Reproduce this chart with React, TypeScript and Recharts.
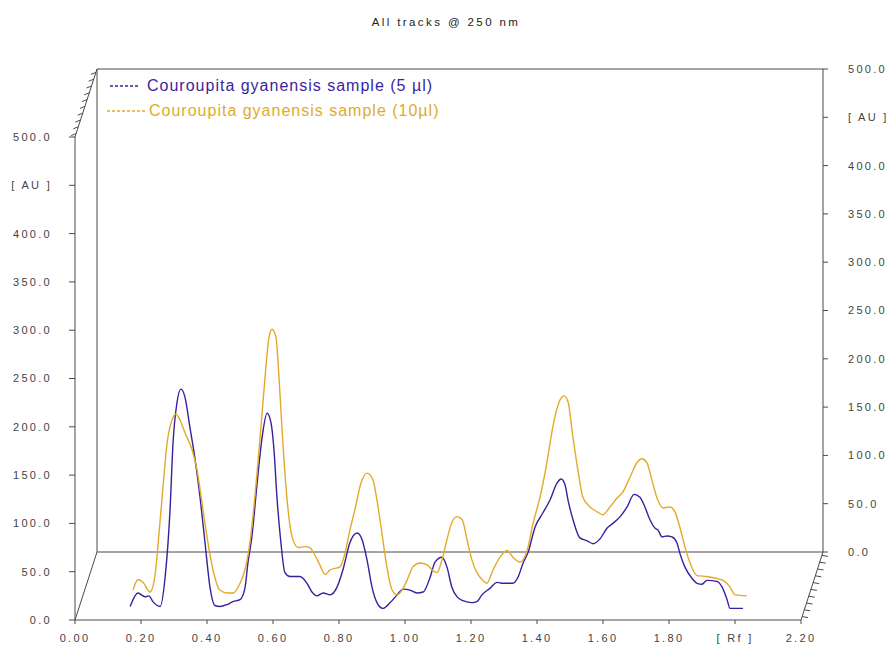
import React from "react";
import { LineChart, Line, XAxis, YAxis, Legend } from "recharts";

const TITLE = "All tracks @ 250 nm";
const SERIES_NAMES = [
  "Couroupita gyanensis sample (5 µl)",
  "Couroupita gyanensis sample (10µl)",
];
const COLORS = ["#3b1f9c", "#e2aa2a"];

const X_TICKS = [0, 0.2, 0.4, 0.6, 0.8, 1.0, 1.2, 1.4, 1.6, 1.8, 2.0, 2.2];
const Y_TICKS = [0, 50, 100, 150, 200, 250, 300, 350, 400, 450, 500];
const X_UNIT = { at: 2.0, label: "[ Rf ]" };
const Y_UNIT = { at: 450, label: "[ AU ]" };

// track 1 (5 µl)
const blueRf = [
  0.167, 0.191, 0.212, 0.224, 0.236, 0.258, 0.273, 0.288, 0.297, 0.309,
  0.321, 0.333, 0.348, 0.364, 0.379, 0.394, 0.409, 0.424, 0.439, 0.461,
  0.479, 0.5, 0.515, 0.524, 0.536, 0.552, 0.567, 0.582, 0.594, 0.603,
  0.612, 0.624, 0.636, 0.652, 0.682, 0.703, 0.718, 0.733, 0.752, 0.773,
  0.794, 0.812, 0.833, 0.855, 0.87, 0.885, 0.9, 0.915, 0.933, 0.955,
  0.976, 0.994, 1.015, 1.036, 1.055, 1.076, 1.091, 1.112, 1.127, 1.142,
  1.158, 1.176, 1.203, 1.218, 1.233, 1.258, 1.279, 1.297, 1.327, 1.342,
  1.358, 1.373, 1.394, 1.418, 1.439, 1.461, 1.473, 1.485, 1.494, 1.509,
  1.53, 1.552, 1.57, 1.591, 1.612, 1.63, 1.652, 1.673, 1.694, 1.712,
  1.727, 1.742, 1.758, 1.767, 1.779, 1.794, 1.809, 1.824, 1.833, 1.848,
  1.87, 1.885, 1.9, 1.915, 1.945, 1.961, 1.976, 1.985, 2.024,
];
const blueAu = [
  14, 28, 24, 25, 19, 14, 44, 114, 183, 225,
  239, 231, 200, 166, 127, 80, 34, 15, 14, 16,
  19, 21, 33, 59, 86, 142, 189, 214, 204, 176,
  127, 80, 49, 45, 45, 38, 29, 25, 28, 26,
  34, 52, 80, 90, 83, 62, 34, 18, 12, 18,
  26, 32, 31, 28, 29, 44, 60, 65, 55, 34,
  24, 20, 18, 19, 26, 33, 39, 38, 38, 44,
  59, 70, 96, 111, 124, 142, 146, 140, 124, 104,
  85, 82, 79, 84, 95, 100, 107, 117, 130, 127,
  117, 104, 95, 93, 86, 87, 86, 80, 69, 55,
  43, 38, 37, 41, 40, 34, 21, 12, 12,
];

// track 2 (10 µl)
const orangeRf = [
  0.176, 0.191, 0.206, 0.227, 0.242, 0.252, 0.264, 0.279, 0.294, 0.306,
  0.318, 0.333, 0.355, 0.37, 0.385, 0.4, 0.418, 0.439, 0.461, 0.479,
  0.5, 0.515, 0.53, 0.545, 0.561, 0.576, 0.588, 0.597, 0.609, 0.618,
  0.63, 0.642, 0.658, 0.676, 0.697, 0.712, 0.727, 0.742, 0.758, 0.773,
  0.803, 0.818, 0.833, 0.848, 0.867, 0.885, 0.903, 0.915, 0.93, 0.945,
  0.961, 0.976, 0.991, 1.006, 1.024, 1.045, 1.067, 1.082, 1.097, 1.112,
  1.127, 1.142, 1.158, 1.173, 1.188, 1.203, 1.218, 1.236, 1.248, 1.267,
  1.288, 1.309, 1.327, 1.348, 1.37, 1.388, 1.409, 1.43, 1.448, 1.47,
  1.482, 1.494, 1.509, 1.524, 1.539, 1.561, 1.582, 1.6, 1.621, 1.642,
  1.661, 1.682, 1.703, 1.718, 1.733, 1.748, 1.764, 1.782, 1.803, 1.818,
  1.833, 1.848, 1.864, 1.885, 1.915, 1.945, 1.964, 1.985, 2.0, 2.036,
];
const orangeAu = [
  31, 42, 39, 29, 45, 80, 127, 183, 207, 213,
  207, 194, 176, 155, 121, 86, 52, 31, 28, 28,
  38, 52, 80, 127, 189, 252, 293, 301, 293, 252,
  183, 127, 86, 75, 76, 75, 67, 57, 47, 52,
  55, 69, 93, 114, 142, 152, 145, 124, 90, 55,
  31, 26, 31, 41, 55, 59, 57, 52, 49, 62,
  83, 101, 107, 104, 83, 62, 49, 41, 38, 52,
  65, 72, 65, 60, 72, 100, 127, 163, 200, 228,
  232, 226, 189, 155, 127, 117, 112, 109, 117, 126,
  133, 148, 163, 167, 163, 145, 126, 116, 117, 112,
  96, 76, 59, 46, 45, 43, 41, 34, 26, 25,
];

const blueData = blueRf.map((rf, i) => ({ rf, au: blueAu[i] }));
const orangeData = orangeRf.map((rf, i) => ({ rf, au: orangeAu[i] }));

// frame geometry (front plane and depth offset of the back plane)
const W = 890;
const H = 650;
const FRONT = { left: 75, top: 137, right: 801, bottom: 620 };
const DEPTH = { dx: 22, dy: -68 };
const BACK = {
  left: FRONT.left + DEPTH.dx,
  top: FRONT.top + DEPTH.dy,
  right: FRONT.right + DEPTH.dx,
  bottom: FRONT.bottom + DEPTH.dy,
};

const FONT = "'Liberation Sans', Arial, sans-serif";
const AXIS = "#4a4a4a";
const tickText = { fill: "#444", fontSize: 11, fontFamily: FONT, letterSpacing: 2.3 };

const fmtX = (v: number) => (Math.abs(v - X_UNIT.at) < 1e-6 ? X_UNIT.label : v.toFixed(2));
const fmtY = (v: number) => (v === Y_UNIT.at ? Y_UNIT.label : v.toFixed(1));

const renderLegend = (props: any) => {
  // keep the track order (Recharts sorts legend items by name)
  const items = [...(props.payload || [])].sort(
    (a: any, b: any) => SERIES_NAMES.indexOf(a.value) - SERIES_NAMES.indexOf(b.value)
  );
  return (
    <div style={{ fontFamily: FONT, fontSize: 16, letterSpacing: 1 }}>
      {items.map((item: any, i: number) => {
        const dashW = i === 0 ? 30 : 40;
        return (
          <div
            key={i}
            style={{
              display: "flex",
              alignItems: "center",
              height: 25,
              marginLeft: i === 0 ? 0 : -3,
              color: item.color,
              whiteSpace: "nowrap",
            }}
          >
            <svg width={dashW} height={6} style={{ marginRight: i === 0 ? 7 : 2 }}>
              <line x1={0} y1={3} x2={dashW} y2={3} stroke={item.color} strokeWidth={1.3} strokeDasharray="3 2" />
            </svg>
            <span>{item.value}</span>
          </div>
        );
      })}
    </div>
  );
};

function DepthFrame() {
  const hatch = (x1: number, y1: number, x2: number, y2: number, hx: number, hy: number) =>
    Array.from({ length: 10 }, (_, k) => {
      const t = (k + 0.5) / 10;
      const x = x1 + (x2 - x1) * t;
      const y = y1 + (y2 - y1) * t;
      return <line key={k} x1={x} y1={y} x2={x + hx} y2={y + hy} stroke={AXIS} strokeWidth={1} />;
    });
  return (
    <svg width={W} height={H} style={{ position: "absolute", left: 0, top: 0, pointerEvents: "none" }}>
      <text x={446} y={26} textAnchor="middle" fontFamily={FONT} fontSize={11.5} letterSpacing={2.4} fill="#222">
        {TITLE}
      </text>
      <line x1={FRONT.left} y1={FRONT.top} x2={BACK.left} y2={BACK.top} stroke={AXIS} />
      <line x1={FRONT.left} y1={FRONT.bottom} x2={BACK.left} y2={BACK.bottom} stroke={AXIS} />
      <line x1={FRONT.right} y1={FRONT.bottom} x2={BACK.right} y2={BACK.bottom} stroke={AXIS} />
      {hatch(FRONT.left, FRONT.top, BACK.left, BACK.top, -5, 2)}
      {hatch(FRONT.right, FRONT.bottom, BACK.right, BACK.bottom, 6, 1)}
    </svg>
  );
}

export default function App() {
  const yW = 60;
  const xH = 30;
  return (
    <div style={{ position: "absolute", left: 0, top: 0, width: W, height: H, background: "#fff", fontFamily: FONT }}>
      {/* back plane: top ticks, right value axis */}
      <div style={{ position: "absolute", left: 0, top: 0 }}>
        <LineChart
          width={W}
          height={H}
          margin={{ top: BACK.top - 20, bottom: H - BACK.bottom - 20, left: BACK.left - 20, right: W - BACK.right - yW }}
        >
          <XAxis xAxisId="top" orientation="top" type="number" domain={[0, 2.2]} ticks={X_TICKS} interval={0}
            allowDataOverflow height={20} tick={false} tickSize={5} stroke={AXIS} />
          <XAxis xAxisId="bottom" orientation="bottom" type="number" domain={[0, 2.2]} ticks={X_TICKS}
            allowDataOverflow height={20} tick={false} tickLine={false} stroke={AXIS} />
          <YAxis yAxisId="left" orientation="left" type="number" domain={[0, 500]} ticks={Y_TICKS}
            allowDataOverflow width={20} tick={false} tickLine={false} stroke={AXIS} />
          <YAxis yAxisId="right" orientation="right" type="number" domain={[0, 500]} ticks={Y_TICKS} interval={0}
            allowDataOverflow width={yW} tickSize={5} tickMargin={20} tick={tickText} tickFormatter={fmtY} stroke={AXIS} />
        </LineChart>
      </div>
      {/* front plane: Rf axis, left value axis, tracks */}
      <div style={{ position: "absolute", left: 0, top: 0 }}>
        <LineChart
          width={W}
          height={H}
          margin={{ top: FRONT.top, right: W - FRONT.right, left: FRONT.left - yW, bottom: H - FRONT.bottom - xH }}
        >
          <XAxis dataKey="rf" type="number" domain={[0, 2.2]} ticks={X_TICKS} interval={0} allowDataOverflow
            height={xH} tickSize={4} tickMargin={10} tick={tickText} tickFormatter={fmtX} stroke={AXIS} />
          <YAxis type="number" domain={[0, 500]} ticks={Y_TICKS} interval={0} allowDataOverflow
            width={yW} tickSize={6} tickMargin={17} tick={tickText} tickFormatter={fmtY} stroke={AXIS} />
          <Legend
            layout="vertical"
            align="center"
            verticalAlign="middle"
            content={renderLegend}
            wrapperStyle={{ top: 73, left: 110, width: 420 }}
          />
          <Line data={blueData} dataKey="au" name={SERIES_NAMES[0]} type="monotone" stroke={COLORS[0]}
            strokeWidth={1.4} dot={false} isAnimationActive={false} />
          <Line data={orangeData} dataKey="au" name={SERIES_NAMES[1]} type="monotone" stroke={COLORS[1]}
            strokeWidth={1.4} dot={false} isAnimationActive={false} />
        </LineChart>
      </div>
      <DepthFrame />
    </div>
  );
}
